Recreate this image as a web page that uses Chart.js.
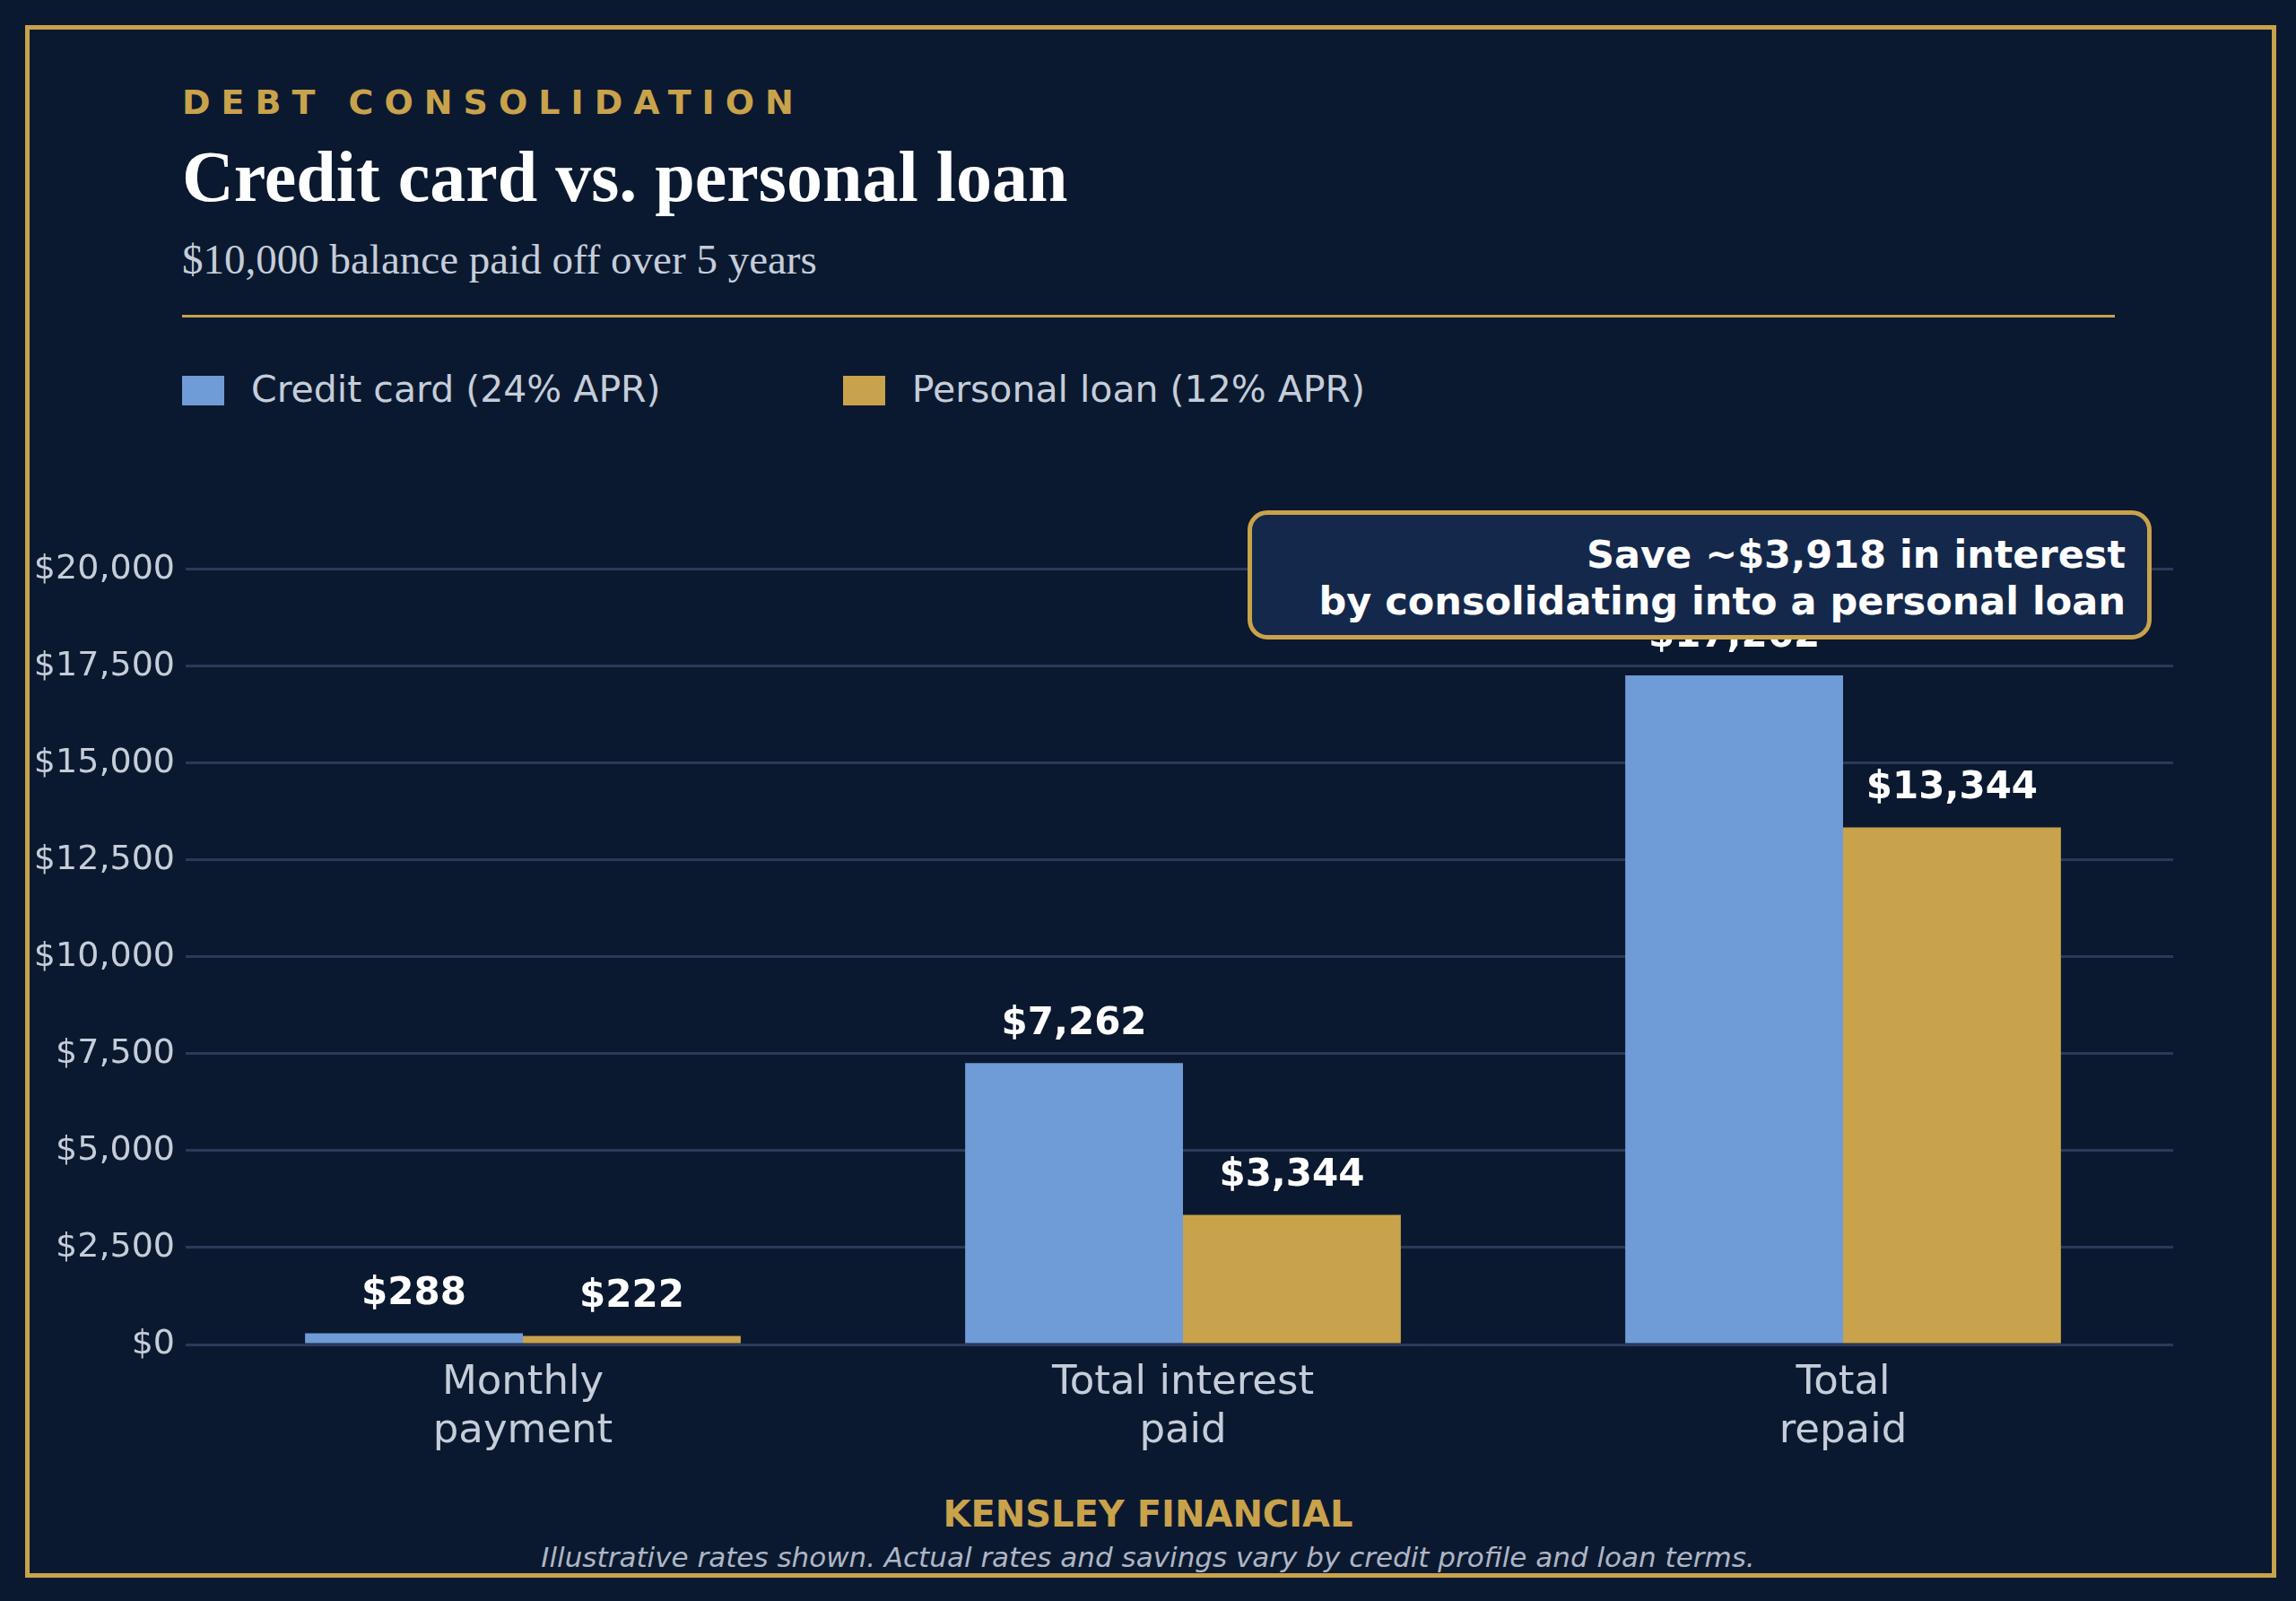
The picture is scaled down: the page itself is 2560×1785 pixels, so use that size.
<!DOCTYPE html>
<html><head><meta charset="utf-8">
<script src="https://cdn.jsdelivr.net/npm/chart.js@4"></script>
<style>
body{margin:0;width:2560px;height:1785px;background:#0b1930;position:relative;overflow:hidden;font-family:"DejaVu Sans",sans-serif}
.frame{position:absolute;left:28px;top:28px;width:2500px;height:1721px;border:5px solid #c9a24c}
.t{position:absolute;left:203px;white-space:nowrap}
#box{position:absolute;left:1391px;top:569px;width:1008px;height:144px;border:5px solid #c9a24c;border-radius:22px;background:#14284b;color:#fff;font-weight:bold;font-size:43px;text-align:right;box-sizing:border-box;padding:18px 24px 0 0;line-height:52px}
</style></head><body>
<div class="frame"></div>
<div class="t" style="top:92px;color:#c9a24c;font-weight:bold;font-size:38px;letter-spacing:12px">DEBT CONSOLIDATION</div>
<div class="t" style="top:152px;color:#fff;font-family:'Liberation Serif',serif;font-weight:bold;font-size:80px">Credit card vs. personal loan</div>
<div class="t" style="top:262px;color:#c5cdd9;font-family:'Liberation Serif',serif;font-size:47px">$10,000 balance paid off over 5 years</div>
<div style="position:absolute;left:203px;top:351px;width:2155px;height:3px;background:#c9a24c"></div>
<div class="t" style="top:410px;font-size:41px;color:#c5cdd9">
<span style="display:inline-block;width:47px;height:33px;background:#6f9bd6;vertical-align:-4px;margin-right:30px"></span>Credit card (24% APR)
<span style="display:inline-block;width:47px;height:33px;background:#c9a24c;vertical-align:-4px;margin:0 30px 0 190px"></span>Personal loan (12% APR)</div>
<div style="position:absolute;left:30px;top:600px;width:2393px;height:1029px"><canvas id="c"></canvas></div>
<div id="box">Save ~$3,918 in interest<br>by consolidating into a personal loan</div>
<div style="position:absolute;left:0;width:2560px;top:1665px;text-align:center;color:#c9a24c;font-weight:bold;font-size:40px">KENSLEY FINANCIAL</div>
<div style="position:absolute;left:0;width:2560px;top:1718px;text-align:center;color:#aeb6c4;font-style:italic;font-size:31px">Illustrative rates shown. Actual rates and savings vary by credit profile and loan terms.</div>
<script>
const categories = [['Monthly', 'payment'], ['Total interest', 'paid'], ['Total', 'repaid']];
const creditCard = [288, 7262, 17262];
const personalLoan = [222, 3344, 13344];
const yTicks = [0, 2500, 5000, 7500, 10000, 12500, 15000, 17500, 20000];
const fmt = v => '$' + v.toLocaleString('en-US');
const labels = {
  id: 'labels',
  afterDatasetsDraw(chart) {
    const ctx = chart.ctx;
    ctx.save();
    ctx.fillStyle = '#fff';
    ctx.font = 'bold 42px "DejaVu Sans"';
    ctx.textAlign = 'center';
    ctx.textBaseline = 'bottom';
    chart.data.datasets.forEach((ds, i) => {
      chart.getDatasetMeta(i).data.forEach((bar, j) => {
        ctx.fillText(fmt(ds.data[j]), bar.x, bar.y - 22);
      });
    });
    ctx.restore();
  }
};
new Chart(document.getElementById('c'), {
  type: 'bar',
  data: {
    labels: categories,
    datasets: [
      { label: 'Credit card (24% APR)', data: creditCard, backgroundColor: '#6f9bd6' },
      { label: 'Personal loan (12% APR)', data: personalLoan, backgroundColor: '#c9a24c' }
    ]
  },
  options: {
    responsive: true, maintainAspectRatio: false, animation: false,
    categoryPercentage: 0.66, barPercentage: 1,
    layout: { padding: { top: 15 } },
    plugins: { legend: { display: false }, tooltip: { enabled: false } },
    scales: {
      x: {
        grid: { display: false }, border: { color: '#2a3a5a' },
        ticks: { color: '#c5cdd9', font: { size: 45, family: 'DejaVu Sans' }, padding: 8 },
        afterFit: s => { s.height = 130; }
      },
      y: {
        min: 0, max: 20000,
        afterBuildTicks: s => { s.ticks = yTicks.map(v => ({ value: v })); },
        grid: { color: '#2a3a5a', lineWidth: 3 }, border: { display: false },
        ticks: { color: '#c5cdd9', font: { size: 38, family: 'DejaVu Sans' }, callback: v => fmt(v), padding: 12 },
        afterFit: s => { s.width = 185; }
      }
    }
  },
  plugins: [labels]
});
</script>
</body></html>
